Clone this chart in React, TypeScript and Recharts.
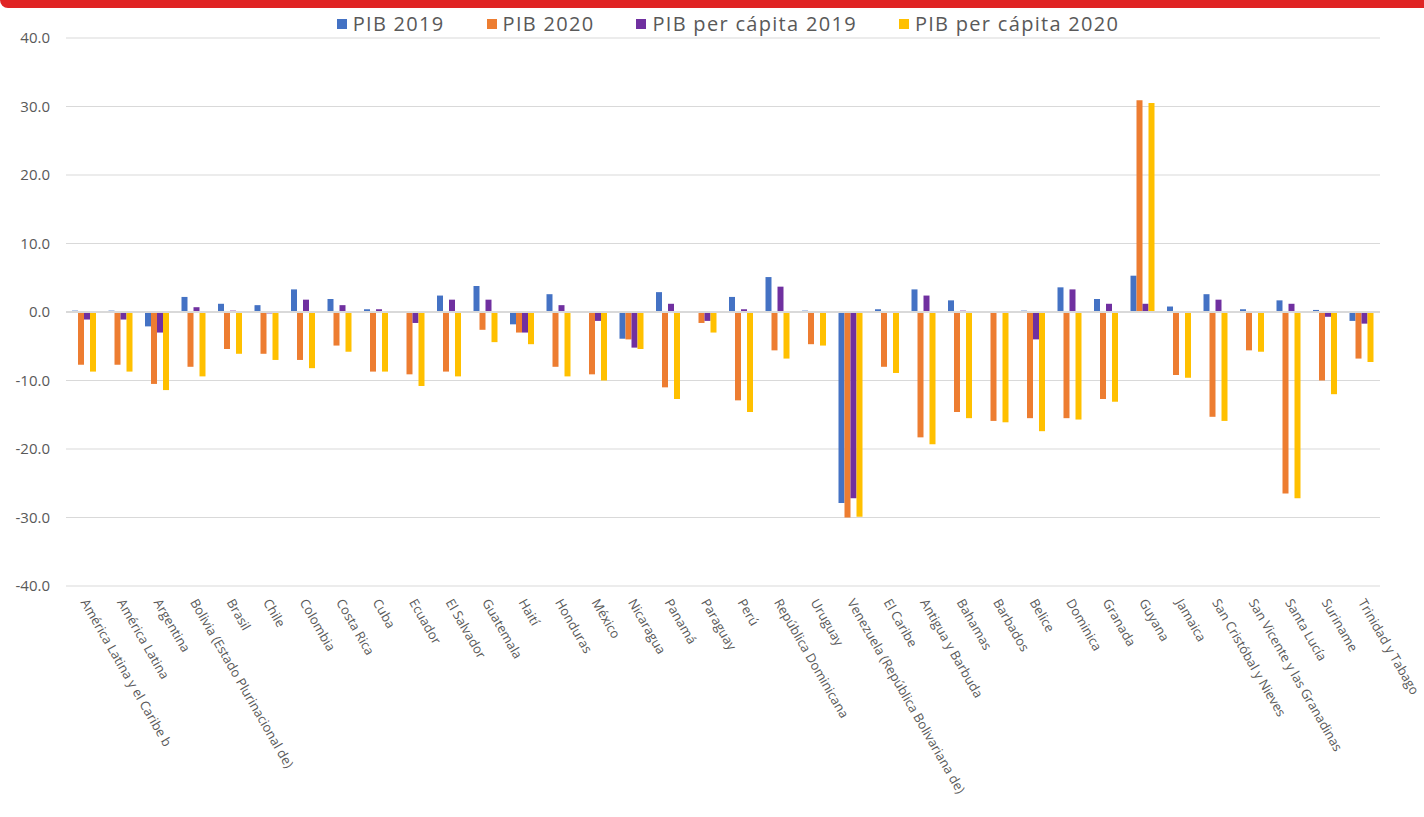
import { BarChart, Bar, XAxis, YAxis, CartesianGrid, ReferenceLine } from "recharts";

const categories = [
  "América Latina y el Caribe b",
  "América Latina",
  "Argentina",
  "Bolivia (Estado Plurinacional de)",
  "Brasil",
  "Chile",
  "Colombia",
  "Costa Rica",
  "Cuba",
  "Ecuador",
  "El Salvador",
  "Guatemala",
  "Haití",
  "Honduras",
  "México",
  "Nicaragua",
  "Panamá",
  "Paraguay",
  "Perú",
  "República Dominicana",
  "Uruguay",
  "Venezuela (República Bolivariana de)",
  "El Caribe",
  "Antigua y Barbuda",
  "Bahamas",
  "Barbados",
  "Belice",
  "Dominica",
  "Granada",
  "Guyana",
  "Jamaica",
  "San Cristóbal y Nieves",
  "San Vicente y las Granadinas",
  "Santa Lucía",
  "Suriname",
  "Trinidad y Tabago",
];

const pib2019 = [0.2, 0.2, -2.1, 2.2, 1.2, 1.0, 3.3, 1.9, 0.4, 0.1, 2.4, 3.8, -1.8, 2.6, -0.1, -3.9, 2.9, 0.0, 2.2, 5.1, 0.2, -27.9, 0.4, 3.3, 1.7, -0.1, 0.2, 3.6, 1.9, 5.3, 0.8, 2.6, 0.4, 1.7, 0.3, -1.3];
const pib2020 = [-7.7, -7.7, -10.5, -8.0, -5.4, -6.1, -7.0, -4.9, -8.7, -9.1, -8.7, -2.6, -3.0, -8.0, -9.1, -4.0, -11.0, -1.6, -12.9, -5.6, -4.7, -30.0, -8.0, -18.3, -14.6, -15.9, -15.5, -15.5, -12.7, 30.9, -9.2, -15.3, -5.6, -26.5, -10.0, -6.8];
const pc2019 = [-1.1, -1.1, -3.0, 0.7, 0.2, -0.2, 1.8, 1.0, 0.4, -1.6, 1.8, 1.8, -3.0, 1.0, -1.3, -5.2, 1.2, -1.3, 0.4, 3.7, -0.1, -27.2, 0.0, 2.4, 0.2, -0.1, -4.0, 3.3, 1.2, 1.2, 0.1, 1.8, 0.1, 1.2, -0.7, -1.7];
const pc2020 = [-8.7, -8.7, -11.4, -9.4, -6.1, -7.0, -8.2, -5.8, -8.7, -10.8, -9.4, -4.4, -4.7, -9.4, -10.0, -5.4, -12.7, -3.0, -14.6, -6.8, -4.9, -29.9, -8.9, -19.3, -15.5, -16.1, -17.4, -15.7, -13.1, 30.5, -9.6, -15.9, -5.8, -27.2, -12.0, -7.3];

const yTicks = [-40, -30, -20, -10, 0, 10, 20, 30, 40];

const series = [
  { key: "pib2019", name: "PIB 2019", color: "#4472c4" },
  { key: "pib2020", name: "PIB 2020", color: "#ed7d31" },
  { key: "pc2019", name: "PIB per cápita 2019", color: "#7030a0" },
  { key: "pc2020", name: "PIB per cápita 2020", color: "#ffc000" },
];

const data = categories.map((name, i) => ({
  name,
  pib2019: pib2019[i],
  pib2020: pib2020[i],
  pc2019: pc2019[i],
  pc2020: pc2020[i],
}));

const FONT = "'Open Sans', 'Liberation Sans', sans-serif";
const TEXT = "#595959";

function AngledTick({ x, y, payload }: { x?: number; y?: number; payload?: { value: string } }) {
  return (
    <g transform={`translate(${x},${y})`}>
      <text
        x={0}
        y={0}
        dy="0.35em"
        transform="rotate(60)"
        textAnchor="start"
        fontSize={13}
        fill={TEXT}
        fontFamily={FONT}
      >
        {payload?.value}
      </text>
    </g>
  );
}

// legend sits above the plot, outside recharts so it doesn't eat the top margin
function TopLegend() {
  return (
    <div
      style={{
        position: "absolute",
        left: 0,
        top: 10,
        width: 1456,
        display: "flex",
        justifyContent: "center",
        gap: 42,
        fontFamily: FONT,
        fontSize: 20,
        letterSpacing: 1.3,
        color: TEXT,
        lineHeight: "28px",
      }}
    >
      {series.map((s) => (
        <div key={s.key} style={{ display: "flex", alignItems: "center", gap: 6 }}>
          <span style={{ display: "inline-block", width: 10, height: 10, background: s.color }} />
          <span>{s.name}</span>
        </div>
      ))}
    </div>
  );
}

export default function App() {
  return (
    <div style={{ position: "absolute", left: 0, top: 0, width: 1424, height: 817, background: "#fff", overflow: "hidden" }}>
      <div
        style={{
          position: "absolute",
          left: 0,
          top: 0,
          width: 1424,
          height: 8,
          background: "#e02424",
          borderBottomLeftRadius: 10,
        }}
      />
      <TopLegend />
      <BarChart
        width={1424}
        height={817}
        data={data}
        margin={{ top: 38, right: 44, left: 10, bottom: 0 }}
        barSize={6}
        barGap={0}
      >
        <CartesianGrid vertical={false} stroke="#d9d9d9" />
        <XAxis
          dataKey="name"
          interval={0}
          tick={<AngledTick />}
          tickLine={false}
          axisLine={false}
          height={231}
          tickMargin={8}
        />
        <YAxis
          domain={[-40, 40]}
          ticks={yTicks}
          tickFormatter={(v: number) => v.toFixed(1)}
          tick={{ fontSize: 15, fill: TEXT, fontFamily: FONT, dx: -8 }}
          axisLine={false}
          tickLine={false}
          width={56}
        />
        <ReferenceLine y={0} stroke="#d9d9d9" strokeWidth={2} />
        {series.map((s) => (
          <Bar key={s.key} dataKey={s.key} name={s.name} fill={s.color} isAnimationActive={false} />
        ))}
      </BarChart>
    </div>
  );
}
